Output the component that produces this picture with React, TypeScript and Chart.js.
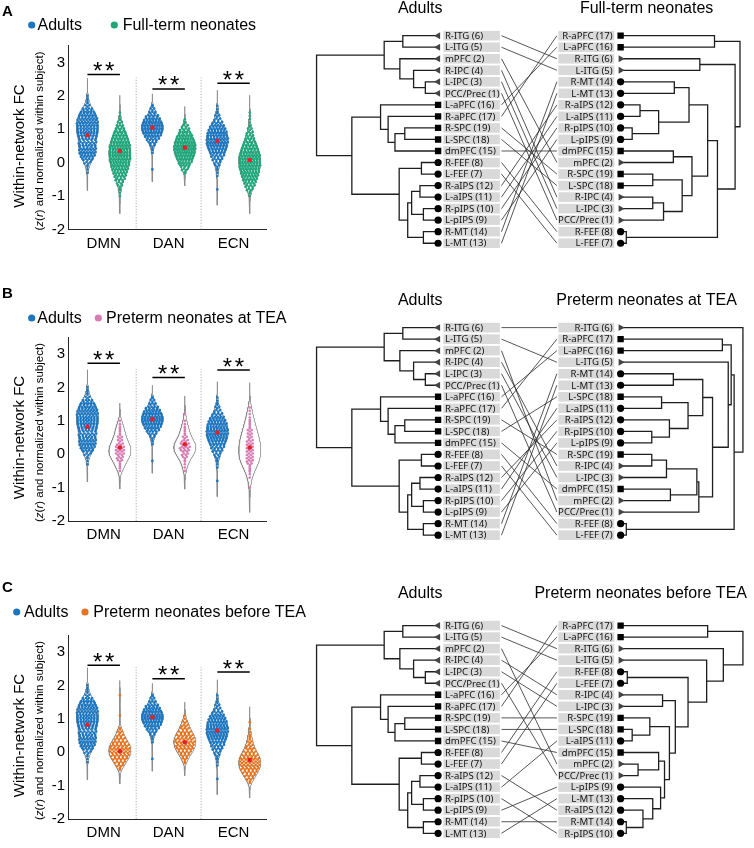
import React, { useEffect, useRef } from 'react';
import { Chart, registerables } from 'chart.js';
Chart.register(...registerables);

const FONT = "'Liberation Sans', Arial, Helvetica, sans-serif";
const LABEL_FONT = "'Noto Sans', 'Open Sans', Arial, sans-serif";

// ---------------- Violin / swarm data ----------------
const networks = ['DMN', 'DAN', 'ECN'];
const yTickValues = [-2, -1, 0, 1, 2, 3];
const binWidth = 0.1; // counts below are per 0.1 bin, starting at the given bin centre

// Adults (same group in all three panels)
const adultsStart = [-0.3, -0.2, -0.8];
const adultsDMN = [1, 1, 2, 4, 7, 10, 12, 12, 11, 10, 11, 13, 15, 15, 15, 14, 14, 13, 11, 7, 3, 2, 2, 1];
const adultsDAN = [1, 0, 0, 0, 0, 1, 2, 3, 5, 8, 12, 15, 17, 17, 15, 12, 8, 5, 3, 2];
const adultsECN = [1, 0, 0, 0, 1, 1, 2, 3, 4, 6, 8, 11, 13, 15, 16, 16, 15, 14, 12, 10, 6, 4, 3, 2, 1, 1];
const adultsMean = [0.82, 1.05, 0.65];

// Full-term neonates (panel A)
const fullTermStart = [-1.0, -0.3, -1.0];
const fullTermDMN = [1, 1, 2, 3, 4, 6, 8, 10, 12, 14, 15, 16, 17, 17, 17, 16, 15, 13, 11, 9, 7, 5, 3, 2, 1, 1];
const fullTermDAN = [2, 4, 7, 10, 13, 15, 17, 18, 18, 17, 15, 12, 9, 6, 4, 2, 1];
const fullTermECN = [1, 2, 4, 6, 8, 10, 12, 14, 15, 16, 17, 17, 16, 15, 13, 11, 9, 7, 5, 4, 3, 2, 1, 1, 1, 1];
const fullTermMean = [0.35, 0.45, 0.08];

// Preterm neonates at TEA (panel B)
const pretermTEAStart = [-0.5, -0.5, -1.0];
const pretermTEADMN = [1, 2, 2, 3, 4, 5, 5, 5, 4, 3, 3, 2, 2, 2, 1, 1];
const pretermTEADAN = [1, 1, 1, 2, 3, 4, 5, 6, 5, 4, 3, 2, 2, 2, 1, 1, 0, 1];
const pretermTEAECN = [1, 0, 0, 1, 1, 2, 2, 3, 4, 4, 4, 4, 4, 4, 4, 3, 3, 3, 2, 2, 2, 1, 1, 1, 1];
const pretermTEAMean = [0.2, 0.3, 0.2];

// Preterm neonates before TEA (panel C)
const pretermBeforeStart = [-0.5, -0.3, -0.9];
const pretermBeforeDMN = [2, 4, 6, 8, 10, 11, 11, 10, 8, 6, 4, 3, 2, 0, 0, 0, 1, 0, 0, 0, 0, 0, 1];
const pretermBeforeDAN = [2, 3, 5, 7, 9, 10, 11, 10, 9, 7, 5, 4, 3, 1, 1];
const pretermBeforeECN = [2, 4, 6, 8, 10, 11, 11, 11, 9, 7, 5, 4, 3, 2, 2, 1, 1, 0, 1];
const pretermBeforeMean = [0.03, 0.3, -0.23];

// significance bar heights (** p<0.01)
const sigBarsA = [2.64, 2.21, 2.38];
const sigBarsB = [2.72, 2.3, 2.52];
const sigBarsC = [2.6, 2.2, 2.4];

// ---------------- Tanglegram data ----------------
const adultsOrder = ['R-ITG (6)', 'L-ITG (5)', 'mPFC (2)', 'R-IPC (4)', 'L-IPC (3)', 'PCC/Prec (1)', 'L-aPFC (16)', 'R-aPFC (17)', 'R-SPC (19)', 'L-SPC (18)', 'dmPFC (15)', 'R-FEF (8)', 'L-FEF (7)', 'R-aIPS (12)', 'L-aIPS (11)', 'R-pIPS (10)', 'L-pIPS (9)', 'R-MT (14)', 'L-MT (13)'];
// merges: [child, child, height]; number = earlier merge index
const adultsTree: [string | number, string | number, number][] = [
  ['R-ITG (6)', 'L-ITG (5)', 0.33],
  ['L-IPC (3)', 'PCC/Prec (1)', 0.10],
  ['R-IPC (4)', 1, 0.22],
  ['mPFC (2)', 2, 0.36],
  [0, 3, 0.52],
  ['R-SPC (19)', 'L-SPC (18)', 0.31],
  [5, 'dmPFC (15)', 0.41],
  ['R-aPFC (17)', 6, 0.48],
  ['L-aPFC (16)', 7, 0.557],
  ['R-FEF (8)', 'L-FEF (7)', 0.14],
  ['R-aIPS (12)', 'L-aIPS (11)', 0.155],
  ['R-pIPS (10)', 'L-pIPS (9)', 0.12],
  [10, 11, 0.24],
  ['R-MT (14)', 'L-MT (13)', 0.12],
  [12, 13, 0.28],
  [9, 14, 0.367],
  [8, 15, 0.85],
  [4, 16, 1.21],
];

const fullTermOrder = ['R-aPFC (17)', 'L-aPFC (16)', 'R-ITG (6)', 'L-ITG (5)', 'R-MT (14)', 'L-MT (13)', 'R-aIPS (12)', 'L-aIPS (11)', 'R-pIPS (10)', 'L-pIPS (9)', 'dmPFC (15)', 'mPFC (2)', 'R-SPC (19)', 'L-SPC (18)', 'R-IPC (4)', 'L-IPC (3)', 'PCC/Prec (1)', 'R-FEF (8)', 'L-FEF (7)'];
const fullTermTree: [string | number, string | number, number][] = [
  ['R-aPFC (17)', 'L-aPFC (16)', 0.93],
  ['R-ITG (6)', 'L-ITG (5)', 0.78],
  ['R-MT (14)', 'L-MT (13)', 0.52],
  ['R-aIPS (12)', 'L-aIPS (11)', 0.17],
  ['R-pIPS (10)', 'L-pIPS (9)', 0.09],
  [3, 4, 0.36],
  [2, 5, 0.67],
  ['dmPFC (15)', 'mPFC (2)', 0.51],
  ['R-SPC (19)', 'L-SPC (18)', 0.30],
  ['R-IPC (4)', 'L-IPC (3)', 0.30],
  [9, 'PCC/Prec (1)', 0.41],
  [8, 10, 0.60],
  [7, 11, 0.70],
  [6, 12, 0.86],
  ['R-FEF (8)', 'L-FEF (7)', 0.03],
  [13, 14, 0.96],
  [1, 15, 1.14],
  [0, 16, 1.19],
];

const pretermTEAOrder = ['R-ITG (6)', 'R-aPFC (17)', 'L-aPFC (16)', 'L-ITG (5)', 'R-MT (14)', 'L-MT (13)', 'L-SPC (18)', 'L-aIPS (11)', 'R-aIPS (12)', 'R-pIPS (10)', 'L-pIPS (9)', 'R-SPC (19)', 'R-IPC (4)', 'L-IPC (3)', 'dmPFC (15)', 'mPFC (2)', 'PCC/Prec (1)', 'R-FEF (8)', 'L-FEF (7)'];
const pretermTEATree: [string | number, string | number, number][] = [
  ['R-aPFC (17)', 'L-aPFC (16)', 1.01],
  ['R-MT (14)', 'L-MT (13)', 0.51],
  ['L-SPC (18)', 'L-aIPS (11)', 0.39],
  ['R-pIPS (10)', 'L-pIPS (9)', 0.29],
  ['R-aIPS (12)', 3, 0.47],
  [2, 4, 0.66],
  [1, 5, 0.81],
  ['R-SPC (19)', 'R-IPC (4)', 0.29],
  [7, 'L-IPC (3)', 0.44],
  ['dmPFC (15)', 'mPFC (2)', 0.48],
  [8, 9, 0.75],
  [10, 'PCC/Prec (1)', 0.77],
  [6, 11, 0.91],
  ['L-ITG (5)', 12, 1.07],
  [0, 13, 1.10],
  ['R-FEF (8)', 'L-FEF (7)', 0.03],
  [14, 15, 1.13],
  ['R-ITG (6)', 16, 1.22],
];

const pretermBeforeOrder = ['R-aPFC (17)', 'L-aPFC (16)', 'R-ITG (6)', 'L-ITG (5)', 'R-FEF (8)', 'L-FEF (7)', 'R-IPC (4)', 'L-IPC (3)', 'R-SPC (19)', 'L-SPC (18)', 'L-aIPS (11)', 'dmPFC (15)', 'mPFC (2)', 'PCC/Prec (1)', 'L-pIPS (9)', 'L-MT (13)', 'R-aIPS (12)', 'R-MT (14)', 'R-pIPS (10)'];
const pretermBeforeTree: [string | number, string | number, number][] = [
  ['R-aPFC (17)', 'L-aPFC (16)', 0.86],
  ['R-FEF (8)', 'L-FEF (7)', 0.04],
  ['R-IPC (4)', 'L-IPC (3)', 0.40],
  ['L-SPC (18)', 'L-aIPS (11)', 0.09],
  ['R-SPC (19)', 3, 0.27],
  ['mPFC (2)', 'PCC/Prec (1)', 0.15],
  ['dmPFC (15)', 5, 0.36],
  ['R-MT (14)', 'R-pIPS (10)', 0.03],
  ['R-aIPS (12)', 7, 0.20],
  ['L-MT (13)', 8, 0.30],
  ['L-pIPS (9)', 9, 0.38],
  [6, 10, 0.42],
  [4, 11, 0.47],
  [2, 12, 0.53],
  [1, 13, 0.66],
  ['L-ITG (5)', 14, 0.85],
  ['R-ITG (6)', 15, 1.02],
  [0, 16, 1.22],
];

// ---------------- styling / layout ----------------
const adultColor = '#1c76bf';
const meanColor = '#e4202a';

const panels = [
  {
    letter: 'A', neoLabel: 'Full-term neonates', neoColor: '#1fa67a',
    neoStart: fullTermStart, neo: [fullTermDMN, fullTermDAN, fullTermECN], neoMean: fullTermMean, sig: sigBarsA,
    order: fullTermOrder, tree: fullTermTree,
    violinTop: 0, violinH: 262, plotBottom: 229.5, letterY: 12, legendY: 25, legendDotX: [31.7, 114.3], legendTextX: [37.5, 122.7],
    treeTop: 0, treeH: 262, row0: 32.3, titleY: 8.5, rightTitleX: 3.49,
  },
  {
    letter: 'B', neoLabel: 'Preterm neonates at TEA', neoColor: '#d77db3',
    neoStart: pretermTEAStart, neo: [pretermTEADMN, pretermTEADAN, pretermTEAECN], neoMean: pretermTEAMean, sig: sigBarsB,
    order: pretermTEAOrder, tree: pretermTEATree,
    violinTop: 280, violinH: 262, plotBottom: 521, letterY: 294, legendY: 318, legendDotX: [31.7, 98.3], legendTextX: [37.3, 106],
    treeTop: 290, treeH: 262, row0: 324.3, titleY: 301, rightTitleX: 3.49,
  },
  {
    letter: 'C', neoLabel: 'Preterm neonates before TEA', neoColor: '#e6731f',
    neoStart: pretermBeforeStart, neo: [pretermBeforeDMN, pretermBeforeDAN, pretermBeforeECN], neoMean: pretermBeforeMean, sig: sigBarsC,
    order: pretermBeforeOrder, tree: pretermBeforeTree,
    violinTop: 574, violinH: 274, plotBottom: 819, letterY: 588, legendY: 612, legendDotX: [16.7, 85], legendTextX: [24, 93.3],
    treeTop: 580, treeH: 268, row0: 622.5, titleY: 594, rightTitleX: 3.43,
  },
];
const adultsCounts = [adultsDMN, adultsDAN, adultsECN];

// ---------------- helpers ----------------
function expand(start: number, counts: number[]) {
  const v: number[] = [];
  counts.forEach((c, i) => { for (let k = 0; k < c; k++) v.push(start + i * binWidth); });
  return v;
}

function makeViolin(start: number, counts: number[], center: number) {
  const vals = expand(start, counts);
  const n = vals.length;
  const mean = vals.reduce((a, b) => a + b, 0) / n;
  const sd = Math.sqrt(vals.reduce((a, b) => a + (b - mean) * (b - mean), 0) / (n - 1));
  const bw = 0.9 * sd * Math.pow(n, -0.2);
  const dens = (y: number) => vals.reduce((s, v) => s + Math.exp(-0.5 * ((y - v) / bw) * ((y - v) / bw)), 0);
  const lo = vals[0] - 3.5 * bw;
  const hi = vals[n - 1] + 3.5 * bw;
  const grid: number[] = [];
  for (let y = lo; y <= hi + 1e-9; y += 0.01) grid.push(y);
  const d = grid.map(dens);
  const dmax = Math.max(...d);
  const maxHalf = 0.17;
  const halfW = (y: number) => (maxHalf * dens(y)) / dmax;
  const outline: { x: number; y: number | null }[] = [];
  grid.forEach((y, i) => outline.push({ x: center + (maxHalf * d[i]) / dmax, y }));
  for (let i = grid.length - 1; i >= 0; i--) outline.push({ x: center - (maxHalf * d[i]) / dmax, y: grid[i] });
  outline.push({ x: outline[0].x, y: outline[0].y });
  outline.push({ x: center, y: null });
  const dots: { x: number; y: number }[] = [];
  counts.forEach((c, i) => {
    if (!c) return;
    const yb = start + i * binWidth;
    const rows: [number, number][] = c === 1 ? [[yb, 1]] : [[yb + 0.022, Math.ceil(c / 2)], [yb - 0.022, Math.floor(c / 2)]];
    rows.forEach(([y, m], r) => {
      const w = halfW(y);
      const sp = m > 1 ? Math.min(0.06, (1.8 * w) / (m - 1)) : 0;
      const shift = rows.length === 2 && rows[0][1] === rows[1][1] ? (r === 0 ? sp / 4 : -sp / 4) : 0;
      for (let k = 0; k < m; k++) dots.push({ x: center + (k - (m - 1) / 2) * sp + shift, y });
    });
  });
  return { outline, dots };
}

function markerStyle(label: string) {
  const num = Number((label.match(/\((\d+)\)/) || [])[1]);
  if (num <= 6) return 'triangle';
  if (num <= 14) return 'circle';
  return 'rect';
}

function treeSegments(merges: [string | number, string | number, number][], order: string[], leafX: number, originX: number, dir: number) {
  const mergeY: number[] = [];
  const pts: { x: number; y: number | null }[] = [];
  const nodeY = (r: string | number) => (typeof r === 'string' ? order.indexOf(r) : mergeY[r]);
  const nodeX = (r: string | number) => (typeof r === 'string' ? leafX : originX + dir * merges[r][2]);
  merges.forEach(([a, b, h], i) => {
    const xm = originX + dir * h;
    const ya = nodeY(a);
    const yb = nodeY(b);
    mergeY[i] = (ya + yb) / 2;
    pts.push({ x: nodeX(a), y: ya }, { x: xm, y: ya }, { x: xm, y: yb }, { x: nodeX(b), y: yb }, { x: xm, y: null });
  });
  return pts;
}

// ---------------- chart configs ----------------
function violinConfig(p: any): any {
  const unitPx = 33.4;
  const yMin = -2;
  const yMax = 3.5;
  const plotTop = p.plotBottom - (yMax - yMin) * unitPx;
  const W = 330;
  const outlines: any[] = [];
  const adultDots: any[] = [];
  const neoDots: any[] = [];
  networks.forEach((_, i) => {
    const a = makeViolin(adultsStart[i], adultsCounts[i], i + 1 - 0.25);
    const b = makeViolin(p.neoStart[i], p.neo[i], i + 1 + 0.25);
    outlines.push(...a.outline, ...b.outline);
    adultDots.push(...a.dots);
    neoDots.push(...b.dots);
  });
  const means: any[] = [];
  networks.forEach((_, i) => {
    means.push({ x: i + 1 - 0.25, y: adultsMean[i] }, { x: i + 1 + 0.25, y: p.neoMean[i] });
  });
  const sigLines: any[] = [];
  networks.forEach((_, i) => {
    sigLines.push({ x: i + 1 - 0.25, y: p.sig[i] }, { x: i + 1 + 0.25, y: p.sig[i] }, { x: i + 1, y: null });
  });
  const separators = [
    { x: 1.5, y: -2 }, { x: 1.5, y: 2.55 }, { x: 1.5, y: null },
    { x: 2.5, y: -2 }, { x: 2.5, y: 2.55 },
  ];
  const decor = {
    id: 'violinDecor' + p.letter,
    afterDraw(chart: any) {
      const ctx = chart.ctx;
      const top = p.violinTop;
      const ys = chart.scales.y;
      const xs = chart.scales.x;
      ctx.save();
      ctx.fillStyle = '#000';
      // panel letter
      ctx.font = `bold 15px ${FONT}`;
      ctx.textAlign = 'left';
      ctx.textBaseline = 'middle';
      ctx.fillText(p.letter, 2, p.letterY - top);
      // legend
      ctx.font = `16px ${FONT}`;
      const legColors = [adultColor, p.neoColor];
      const legLabels = ['Adults', p.neoLabel];
      legLabels.forEach((lab, k) => {
        ctx.fillStyle = legColors[k];
        ctx.beginPath();
        ctx.arc(p.legendDotX[k], p.legendY - top, 3.6, 0, Math.PI * 2);
        ctx.fill();
        ctx.fillStyle = '#000';
        ctx.fillText(lab, p.legendTextX[k], p.legendY - top + 0.5);
      });
      // y titles
      const yc = ys.getPixelForValue(0.5);
      ctx.save();
      ctx.translate(19.5, yc);
      ctx.rotate(-Math.PI / 2);
      ctx.textAlign = 'center';
      ctx.textBaseline = 'middle';
      ctx.font = `15px ${FONT}`;
      ctx.fillText('Within-network FC', 0, 0);
      ctx.restore();
      const parts: [string, boolean][] = [['(', false], ['z', true], ['(', false], ['r', true], [') and normalized within subject)', false]];
      const fz = 11.5;
      let total = 0;
      parts.forEach(([t, it]) => { ctx.font = `${it ? 'italic ' : ''}${fz}px ${FONT}`; total += ctx.measureText(t).width; });
      ctx.save();
      ctx.translate(40, yc - 5);
      ctx.rotate(-Math.PI / 2);
      ctx.textAlign = 'left';
      ctx.textBaseline = 'middle';
      let xx = -total / 2;
      parts.forEach(([t, it]) => {
        ctx.font = `${it ? 'italic ' : ''}${fz}px ${FONT}`;
        ctx.fillText(t, xx, 0);
        xx += ctx.measureText(t).width;
      });
      ctx.restore();
      // stars
      ctx.font = `24px ${FONT}`;
      ctx.textAlign = 'center';
      ctx.textBaseline = 'alphabetic';
      networks.forEach((_, i) => {
        const cx = xs.getPixelForValue(i + 1);
        const by = ys.getPixelForValue(p.sig[i]);
        ctx.fillText('*', cx - 6, by + 4.5);
        ctx.fillText('*', cx + 6, by + 4.5);
      });
      ctx.restore();
    },
  };
  return {
    type: 'scatter',
    data: {
      datasets: [
        { label: 'outline', data: outlines, showLine: true, borderColor: '#8a8a8a', borderWidth: 0.8, pointRadius: 0, spanGaps: false, tension: 0, order: 5 },
        { label: 'sep', data: separators, showLine: true, borderColor: '#9a9a9a', borderWidth: 0.8, borderDash: [1.2, 1.6], pointRadius: 0, spanGaps: false, order: 6 },
        { label: 'Adults', data: adultDots, pointRadius: 1.3, backgroundColor: adultColor, borderWidth: 0, order: 3 },
        { label: p.neoLabel, data: neoDots, pointRadius: 1.3, backgroundColor: p.neoColor, borderWidth: 0, order: 3 },
        { label: 'mean', data: means, pointRadius: 2.3, backgroundColor: meanColor, borderWidth: 0, order: 1 },
        { label: 'sig', data: sigLines, showLine: true, borderColor: '#000', borderWidth: 1.5, pointRadius: 0, spanGaps: false, order: 2 },
      ],
    },
    options: {
      animation: false,
      responsive: false,
      maintainAspectRatio: false,
      events: [],
      layout: { padding: { left: 0, top: plotTop - p.violinTop, right: W - 266, bottom: 0 } },
      plugins: { legend: { display: false }, tooltip: { enabled: false } },
      scales: {
        x: {
          type: 'linear', min: 0.45, max: 3.5,
          grid: { display: false, drawTicks: false },
          border: { display: true, color: '#262626', width: 1 },
          ticks: { font: { family: FONT, size: 15 }, color: '#000', padding: 5, autoSkip: false, maxRotation: 0, callback: (v: number) => networks[Math.round(v) - 1] },
          afterBuildTicks: (s: any) => { s.ticks = networks.map((_, i) => ({ value: i + 1 })); },
          afterFit: (s: any) => { s.height = p.violinTop + p.violinH - p.plotBottom; },
        },
        y: {
          type: 'linear', min: yMin, max: yMax,
          grid: { display: false, drawTicks: false },
          border: { display: true, color: '#262626', width: 1 },
          ticks: { font: { family: FONT, size: 15 }, color: '#000', padding: 3, autoSkip: false, callback: (v: number) => String(v) },
          afterBuildTicks: (s: any) => { s.ticks = yTickValues.map((v) => ({ value: v })); },
          afterFit: (s: any) => { s.width = 68; },
        },
      },
    },
    plugins: [decor],
  };
}

function treeConfig(p: any): any {
  const rowPx = 11.94;
  const yMinV = -(p.row0 - p.treeTop) / rowPx;
  const yMaxV = yMinV + p.treeH / rowPx;
  // layout constants (x in units of 100 px from canvas left at page x=300)
  const leftOrigin = 1.333, leftMarker = 1.363, leftBox = [1.417, 1.993];
  const crossX = [2.01, 2.575];
  const rightBox = [2.59, 3.16], rightMarker = 3.225, rightOrigin = 3.253;
  const leftSegs = treeSegments(adultsTree, adultsOrder, leftMarker, leftOrigin, -1);
  const rightSegs = treeSegments(p.tree, p.order, rightMarker, rightOrigin, 1);
  const cross: any[] = [];
  adultsOrder.forEach((lab, i) => {
    cross.push({ x: crossX[0], y: i }, { x: crossX[1], y: p.order.indexOf(lab) }, { x: crossX[0], y: null });
  });
  const leftMarkers = adultsOrder.map((lab, i) => ({ x: leftMarker, y: i, label: lab }));
  const rightMarkers = p.order.map((lab: string, i: number) => ({ x: rightMarker, y: i, label: lab }));
  const radius = (c: any) => { const s = markerStyle(c.raw.label); return s === 'rect' ? 4.5 : s === 'triangle' ? 4 : 3.6; };
  const color = (c: any) => (markerStyle(c.raw.label) === 'triangle' ? '#444' : '#000');
  const decor = {
    id: 'treeDecor' + p.letter,
    beforeDatasetsDraw(chart: any) {
      const ctx = chart.ctx;
      const xs = chart.scales.x;
      const ys = chart.scales.y;
      ctx.save();
      const bh = 9.6;
      ctx.font = `9.6px ${LABEL_FONT}`;
      ctx.textBaseline = 'middle';
      const drawSide = (order: string[], box: number[], align: string) => {
        order.forEach((lab, i) => {
          const y = ys.getPixelForValue(i);
          const x0 = xs.getPixelForValue(box[0]);
          const x1 = xs.getPixelForValue(box[1]);
          ctx.fillStyle = '#d9d9d9';
          ctx.fillRect(x0, y - bh / 2, x1 - x0, bh);
          ctx.fillStyle = '#111';
          ctx.textAlign = align;
          ctx.fillText(lab, align === 'left' ? x0 + 1.5 : x1 - 1.5, y + 0.5);
        });
      };
      drawSide(adultsOrder, leftBox, 'left');
      drawSide(p.order, rightBox, 'right');
      ctx.fillStyle = '#000';
      ctx.font = `16px ${FONT}`;
      ctx.textAlign = 'center';
      const ty = p.titleY - p.treeTop;
      ctx.fillText('Adults', xs.getPixelForValue(1.18), ty);
      ctx.fillText(p.neoLabel, xs.getPixelForValue(p.rightTitleX), ty);
      ctx.restore();
    },
  };
  return {
    type: 'scatter',
    data: {
      datasets: [
        { label: 'adult tree', data: leftSegs, showLine: true, borderColor: '#1e1e1e', borderWidth: 1.3, pointRadius: 0, spanGaps: false, tension: 0, order: 4 },
        { label: 'neonate tree', data: rightSegs, showLine: true, borderColor: '#1e1e1e', borderWidth: 1.3, pointRadius: 0, spanGaps: false, tension: 0, order: 4 },
        { label: 'links', data: cross, showLine: true, borderColor: '#2a2a2a', borderWidth: 0.8, pointRadius: 0, spanGaps: false, tension: 0, order: 5 },
        { label: 'left markers', data: leftMarkers, pointStyle: (c: any) => markerStyle(c.raw.label), rotation: -90, pointRadius: radius, backgroundColor: color, borderWidth: 0, order: 1 },
        { label: 'right markers', data: rightMarkers, pointStyle: (c: any) => markerStyle(c.raw.label), rotation: 90, pointRadius: radius, backgroundColor: color, borderWidth: 0, order: 1 },
      ],
    },
    options: {
      animation: false,
      responsive: false,
      maintainAspectRatio: false,
      events: [],
      layout: { padding: 0 },
      plugins: { legend: { display: false }, tooltip: { enabled: false } },
      scales: {
        x: { type: 'linear', min: 0, max: 4.54, display: false },
        y: { type: 'linear', min: yMinV, max: yMaxV, reverse: true, display: false },
      },
    },
    plugins: [decor],
  };
}

export default function App() {
  const refs = useRef<(HTMLCanvasElement | null)[]>([]);
  useEffect(() => {
    const charts: Chart[] = [];
    panels.forEach((p, i) => {
      const c1 = refs.current[2 * i];
      const c2 = refs.current[2 * i + 1];
      if (c1) charts.push(new Chart(c1, violinConfig(p)));
      if (c2) charts.push(new Chart(c2, treeConfig(p)));
    });
    return () => charts.forEach((c) => c.destroy());
  }, []);
  return (
    <div style={{ position: 'absolute', left: 0, top: 0, width: 754, height: 848, background: '#fff', overflow: 'hidden' }}>
      {panels.map((p, i) => (
        <React.Fragment key={p.letter}>
          <canvas
            ref={(el) => { refs.current[2 * i] = el; }}
            width={330}
            height={p.violinH}
            style={{ position: 'absolute', left: 0, top: p.violinTop, width: 330, height: p.violinH }}
          />
          <canvas
            ref={(el) => { refs.current[2 * i + 1] = el; }}
            width={454}
            height={p.treeH}
            style={{ position: 'absolute', left: 300, top: p.treeTop, width: 454, height: p.treeH }}
          />
        </React.Fragment>
      ))}
    </div>
  );
}
